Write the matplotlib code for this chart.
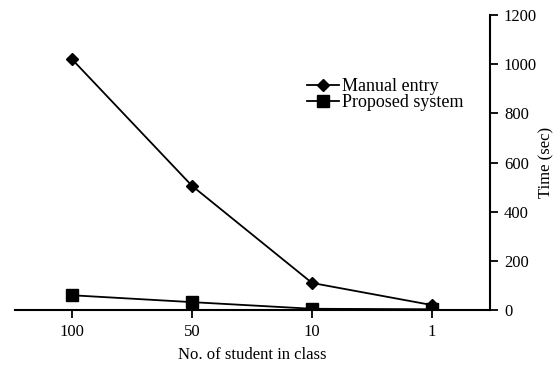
import matplotlib
matplotlib.use('Agg')
import matplotlib.pyplot as plt

# students per class (categories) and time taken in seconds
classes = ['100', '50', '10', '1']
manual = [1020, 505, 110, 20]
proposed = [60, 32, 5, 3]

plt.rcParams['font.family'] = ['Liberation Serif', 'DejaVu Serif']
plt.rcParams['font.size'] = 12

fig = plt.figure(figsize=(5.57, 3.68), dpi=100)
ax = fig.add_axes([0.027, 0.1576, 0.8527, 0.8016])

xs = range(len(classes))
ax.plot(xs, manual, '-D', color='black', lw=1.3, ms=6, label='Manual entry')
ax.plot(xs, proposed, '-s', color='black', lw=1.3, ms=8, label='Proposed system')

ax.set_xlim(-0.475, 3.483)
ax.set_ylim(0, 1200)
ax.set_xticks(list(xs))
ax.set_xticklabels(classes)
ax.set_yticks(range(0, 1201, 200))

ax.yaxis.tick_right()
ax.yaxis.set_label_position('right')
ax.spines['top'].set_visible(False)
ax.spines['left'].set_visible(False)
ax.spines['right'].set_linewidth(1.5)
ax.spines['bottom'].set_linewidth(1.5)
ax.tick_params(direction='out', length=6, width=1.3, pad=4)

ax.set_xlabel('No. of student in class', labelpad=5)
ax.set_ylabel('Time (sec)', labelpad=1)

ax.legend(loc='upper left', bbox_to_anchor=(0.6, 0.81), frameon=False, fontsize=13,
          handlelength=1.75, handletextpad=0.2, labelspacing=-0.05, borderaxespad=0)

fig.savefig('out.png', dpi=100)
